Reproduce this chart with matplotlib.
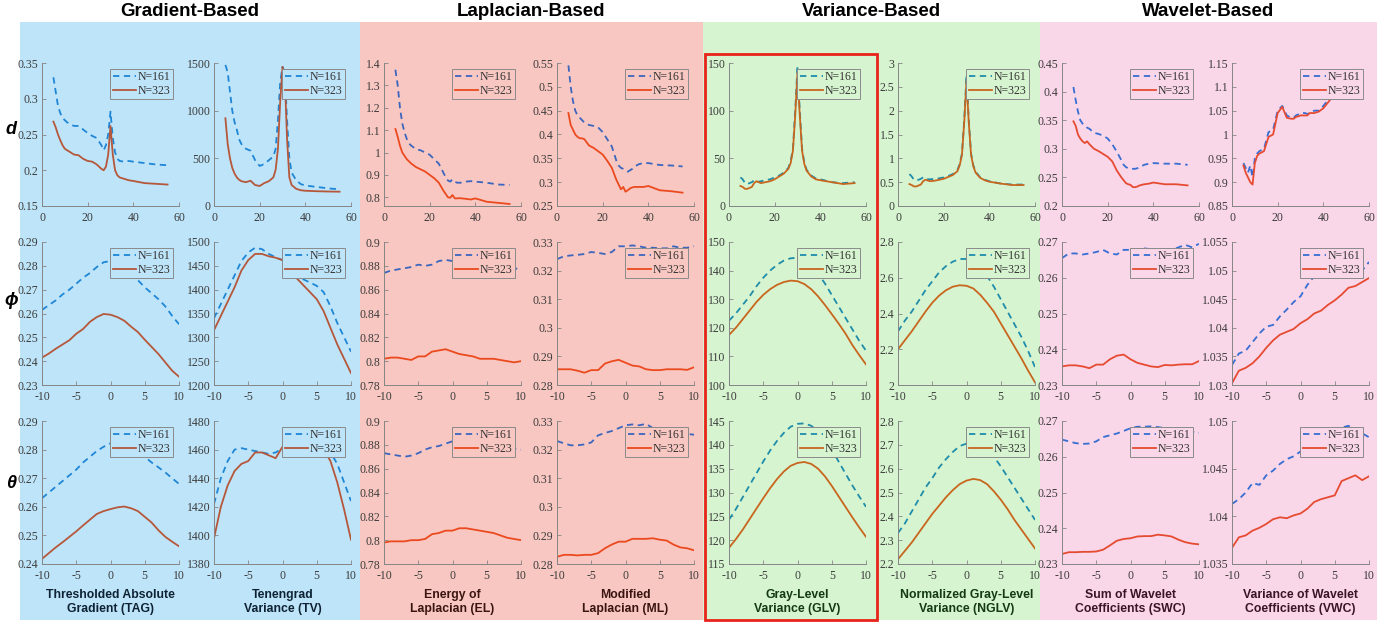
import numpy as np
import matplotlib
matplotlib.use('Agg')
import matplotlib.pyplot as plt
from matplotlib.patches import Rectangle
from matplotlib.ticker import FuncFormatter

plt.rcParams['axes.unicode_minus'] = False

W, H = 1396, 622

# ---------------- data ----------------
# row 1: distance d
D_X = [5, 6, 7, 8, 9, 10, 11, 12, 14, 16, 18, 20, 22, 24, 26, 27, 28, 29, 30, 31, 32, 33, 34, 36, 38, 40, 45, 50, 55]
# rows 2/3: angle phi / theta
A_X = [-10, -9, -8, -7, -6, -5, -4, -3, -2, -1, 0, 1, 2, 3, 4, 5, 6, 7, 8, 9, 10]

TAG_D_161 = [.330, .31, .29, .28, .273, .27, .267, .265, .262, .262, .257, .252, .248, .245, .235, .228, .235, .25, .282, .245, .225, .216, .213, .212, .213, .212, .210, .208, .207]
TAG_D_323 = [.268, .26, .25, .242, .235, .23, .228, .226, .222, .221, .216, .213, .212, .208, .202, .200, .205, .222, .262, .222, .200, .193, .190, .188, .186, .185, .182, .181, .180]
TV_D_161 = [1480, 1400, 1200, 1000, 880, 800, 700, 650, 600, 580, 480, 420, 440, 480, 520, 600, 900, 1300, 1460, 1400, 900, 500, 350, 270, 230, 215, 200, 185, 175]
TV_D_323 = [920, 650, 500, 400, 340, 300, 275, 260, 250, 265, 220, 210, 240, 260, 300, 380, 600, 1100, 1460, 1350, 700, 300, 220, 180, 165, 160, 155, 152, 150]
EL_D_161 = [1.37, 1.3, 1.2, 1.13, 1.09, 1.06, 1.04, 1.03, 1.015, 1.01, 1.0, .99, .97, .95, .91, .89, .875, .87, .88, .87, .865, .865, .865, .87, .872, .87, .865, .857, .855]
EL_D_323 = [1.105, 1.07, 1.03, 1.0, .985, .97, .96, .95, .935, .925, .915, .9, .885, .865, .83, .815, .8, .798, .81, .795, .795, .796, .795, .793, .79, .795, .78, .775, .77]
ML_D_161 = [.545, .5, .47, .45, .44, .435, .43, .425, .42, .418, .415, .405, .39, .375, .345, .335, .33, .328, .325, .322, .325, .328, .333, .338, .34, .34, .336, .335, .333]
ML_D_323 = [.445, .42, .41, .4, .395, .392, .392, .39, .377, .372, .365, .358, .345, .33, .305, .295, .285, .29, .28, .283, .287, .289, .29, .29, .29, .292, .283, .281, .278]
GLV_D_161 = [30, 28, 24, 23, 24, 25, 27, 25, 26, 27, 28, 30, 32, 35, 40, 47, 60, 100, 147, 100, 60, 45, 38, 32, 29, 28, 25, 24, 25]
GLV_D_323 = [21, 20, 18, 18, 19, 20, 24, 26, 24, 25, 26, 28, 31, 34, 39, 45, 58, 95, 140, 95, 58, 44, 37, 31, 28, 27, 25, 23, 24]
NGLV_D_161 = [.67, .62, .55, .54, .55, .57, .6, .56, .56, .57, .58, .6, .63, .67, .75, .88, 1.1, 1.8, 2.75, 1.8, 1.1, .85, .72, .6, .55, .52, .47, .45, .45]
NGLV_D_323 = [.46, .44, .41, .41, .43, .45, .52, .55, .52, .53, .55, .57, .61, .65, .73, .85, 1.07, 1.75, 2.62, 1.75, 1.07, .83, .7, .59, .54, .51, .47, .44, .44]
SWC_D_161 = [.408, .385, .365, .35, .344, .34, .337, .335, .328, .326, .323, .318, .308, .295, .28, .272, .268, .266, .265, .265, .265, .266, .268, .272, .274, .275, .274, .274, .272]
SWC_D_323 = [.348, .34, .325, .318, .313, .31, .313, .308, .3, .296, .291, .286, .278, .262, .25, .245, .24, .238, .237, .233, .233, .234, .236, .238, .239, .241, .238, .238, .236]
VWC_D_161 = [.94, .93, .92, .935, .91, .95, .96, .965, .97, 1.005, 1.01, 1.05, 1.06, 1.04, 1.035, 1.035, 1.04, 1.042, 1.045, 1.045, 1.045, 1.043, 1.045, 1.05, 1.05, 1.06, 1.09, 1.12, 1.14]
VWC_D_323 = [.935, .92, .91, .9, .895, .94, .955, .96, .965, .995, 1.0, 1.045, 1.058, 1.035, 1.033, 1.033, 1.037, 1.038, 1.04, 1.04, 1.04, 1.04, 1.045, 1.045, 1.048, 1.055, 1.085, 1.115, 1.135]

TAG_P_161 = [.2615, .2635, .2655, .268, .270, .2725, .275, .277, .2795, .2815, .282, .281, .279, .2765, .274, .271, .2685, .266, .263, .259, .2555]
TAG_P_323 = [.2415, .2432, .2452, .247, .2488, .2515, .2535, .2565, .2585, .2598, .2595, .2585, .257, .2545, .2522, .249, .246, .243, .2395, .236, .2335]
TV_P_161 = [1340, 1370, 1400, 1430, 1460, 1478, 1488, 1485, 1475, 1468, 1462, 1450, 1435, 1422, 1415, 1408, 1395, 1365, 1330, 1300, 1270]
TV_P_323 = [1315, 1345, 1375, 1405, 1440, 1462, 1475, 1475, 1470, 1467, 1462, 1445, 1425, 1410, 1395, 1380, 1355, 1320, 1285, 1255, 1225]
EL_P_161 = [.874, .876, .877, .878, .879, .881, .880, .881, .884, .885, .884, .884, .883, .882, .882, .881, .880, .879, .879, .878, .877]
EL_P_323 = [.802, .803, .803, .802, .801, .804, .804, .808, .809, .810, .808, .806, .805, .804, .802, .802, .802, .801, .800, .799, .800]
ML_P_161 = [.324, .325, .3253, .3255, .3258, .3265, .3262, .3258, .3265, .3285, .3285, .3288, .3285, .328, .328, .3278, .3278, .3285, .328, .328, .3285]
ML_P_323 = [.2855, .2855, .2855, .285, .2843, .2852, .2852, .2875, .2883, .2888, .2878, .2868, .2865, .2855, .2852, .2852, .2855, .2855, .2855, .2853, .2862]
GLV_P_161 = [122.5, 125, 128, 131, 134.5, 137.5, 140, 142, 143.5, 144.3, 144.5, 143.5, 141.5, 139, 135.5, 131.5, 127.5, 123.5, 119.5, 115.5, 112]
GLV_P_323 = [117.5, 120, 123, 126, 129, 131.5, 133.5, 135, 136, 136.5, 136.3, 135.3, 133.5, 131, 128, 124.8, 121.5, 118, 114, 110.5, 107.2]
NGLV_P_161 = [2.3, 2.36, 2.41, 2.47, 2.53, 2.58, 2.63, 2.665, 2.69, 2.705, 2.705, 2.69, 2.655, 2.61, 2.55, 2.48, 2.41, 2.34, 2.27, 2.19, 2.1]
NGLV_P_323 = [2.2, 2.25, 2.3, 2.355, 2.41, 2.46, 2.5, 2.53, 2.55, 2.558, 2.555, 2.54, 2.505, 2.46, 2.41, 2.345, 2.28, 2.215, 2.15, 2.08, 2.015]
SWC_P_161 = [.2655, .2668, .2668, .2665, .2668, .2672, .2678, .2668, .2665, .2678, .2678, .2678, .2682, .268, .2678, .2675, .2678, .2685, .2692, .2685, .2695]
SWC_P_323 = [.2352, .2355, .2355, .2352, .2347, .2357, .2357, .2372, .2382, .2385, .2372, .2362, .2357, .2352, .2350, .2356, .2355, .2357, .2358, .2358, .2367]
VWC_P_161 = [1.0335, 1.0355, 1.036, 1.0375, 1.039, 1.0402, 1.0405, 1.042, 1.0432, 1.0445, 1.0455, 1.0475, 1.049, 1.05, 1.0505, 1.051, 1.051, 1.0505, 1.050, 1.050, 1.0515]
VWC_P_323 = [1.0303, 1.0325, 1.033, 1.0338, 1.035, 1.0365, 1.0378, 1.0388, 1.0393, 1.0398, 1.0408, 1.0415, 1.0425, 1.043, 1.044, 1.0448, 1.0458, 1.047, 1.0473, 1.048, 1.0487]

TAG_T_161 = [.263, .265, .267, .269, .271, .273, .2755, .2775, .2795, .281, .2822, .2823, .2815, .28, .279, .2775, .2755, .2738, .272, .270, .268]
TAG_T_323 = [.2418, .2438, .2458, .2476, .2495, .2514, .2535, .2555, .2575, .2585, .2592, .2598, .2601, .2595, .2585, .2565, .2545, .2518, .2495, .2478, .2462]
TV_T_161 = [1422, 1440, 1452, 1460, 1461, 1460, 1459, 1458, 1457, 1458, 1461, 1462, 1462, 1461, 1460, 1460, 1459, 1458, 1450, 1437, 1424]
TV_T_323 = [1398, 1420, 1435, 1445, 1450, 1452, 1458, 1458, 1456, 1454, 1462, 1464, 1463, 1462, 1462, 1461, 1460, 1452, 1437, 1418, 1397]
EL_T_161 = [.873, .872, .871, .870, .871, .873, .876, .878, .879, .881, .883, .884, .884, .882, .881, .880, .879, .878, .878, .877, .876]
EL_T_323 = [.798, .799, .799, .799, .800, .800, .801, .805, .806, .808, .808, .810, .810, .809, .808, .807, .806, .804, .802, .801, .800]
ML_T_161 = [.323, .3222, .3215, .3215, .3218, .3225, .325, .3258, .3265, .3275, .3285, .3288, .3285, .329, .3275, .327, .326, .3258, .3255, .3255, .3252]
ML_T_323 = [.2825, .2832, .2832, .283, .2832, .2832, .2838, .2855, .2868, .2878, .2878, .2888, .2888, .2888, .289, .2885, .2882, .2868, .2858, .2855, .2848]
GLV_T_161 = [124.3, 126.5, 129, 131.5, 134, 136.5, 138.8, 140.8, 142.5, 143.8, 144.4, 144.5, 144, 142.8, 141, 139, 136.5, 134, 131.5, 129.2, 127]
GLV_T_323 = [118.4, 120.2, 122.2, 124.4, 126.6, 128.8, 130.9, 132.8, 134.4, 135.6, 136.2, 136.4, 136, 135, 133.4, 131.4, 129.2, 127, 124.8, 122.7, 120.7]
NGLV_T_161 = [2.33, 2.37, 2.42, 2.47, 2.52, 2.56, 2.605, 2.64, 2.67, 2.695, 2.705, 2.708, 2.70, 2.68, 2.65, 2.61, 2.565, 2.52, 2.475, 2.43, 2.385]
NGLV_T_323 = [2.22, 2.255, 2.29, 2.33, 2.37, 2.41, 2.445, 2.48, 2.51, 2.535, 2.55, 2.557, 2.552, 2.535, 2.505, 2.47, 2.43, 2.385, 2.345, 2.305, 2.265]
SWC_T_161 = [.2648, .2643, .2638, .2636, .2637, .2643, .2655, .266, .2665, .2672, .268, .2684, .2684, .2685, .2683, .268, .2678, .2675, .2672, .267, .2667]
SWC_T_323 = [.2328, .2333, .2333, .2334, .2334, .2335, .234, .2352, .2365, .237, .2372, .2377, .2378, .2378, .2382, .238, .2377, .2368, .2361, .2357, .2355]
VWC_T_161 = [1.0413, 1.0418, 1.0425, 1.0435, 1.0433, 1.0443, 1.0448, 1.0455, 1.046, 1.0463, 1.0468, 1.0472, 1.0478, 1.048, 1.0485, 1.049, 1.0493, 1.0495, 1.049, 1.0487, 1.0483]
VWC_T_323 = [1.0367, 1.0378, 1.038, 1.0385, 1.0388, 1.0392, 1.0397, 1.0399, 1.0398, 1.0401, 1.0403, 1.0408, 1.0415, 1.0418, 1.042, 1.0422, 1.0437, 1.044, 1.0443, 1.0438, 1.0442]

METHODS = ['TAG', 'TV', 'EL', 'ML', 'GLV', 'NGLV', 'SWC', 'VWC']
METHOD_NAMES = ['Thresholded Absolute\nGradient (TAG)', 'Tenengrad\nVariance (TV)',
                'Energy of\nLaplacian (EL)', 'Modified\nLaplacian (ML)',
                'Gray-Level\nVariance (GLV)', 'Normalized Gray-Level\nVariance (NGLV)',
                'Sum of Wavelet\nCoefficients (SWC)', 'Variance of Wavelet\nCoefficients (VWC)']
GROUPS = ['Gradient-Based', 'Laplacian-Based', 'Variance-Based', 'Wavelet-Based']
ROW_LABELS = ['d', 'ϕ', 'θ']
LEGEND = ['N=161', 'N=323']

g = globals()
SERIES = [[(g[f'{m}_{r}_161'], g[f'{m}_{r}_323']) for m in METHODS] for r in ['D', 'P', 'T']]

# y limits and tick step, per row / column
YLIMS = [
    [(.15, .35, .05), (0, 1500, 500), (.761, 1.4, .1), (.25, .55, .05), (0, 150, 50), (0, 3, .5), (.2, .45, .05), (.85, 1.15, .05)],
    [(.23, .29, .01), (1200, 1500, 50), (.78, .9, .02), (.28, .33, .01), (100, 150, 10), (2, 2.8, .2), (.23, .27, .01), (1.03, 1.055, .005)],
    [(.24, .29, .01), (1380, 1480, 20), (.78, .9, .02), (.28, .33, .01), (115, 145, 5), (2.2, 2.8, .1), (.23, .27, .01), (1.035, 1.05, .005)],
]

# ---------------- styling ----------------
BG = ['#BEE4F9', '#F8C7C1', '#D6F4CF', '#F9D6E8']
C161 = ['#1F86D6', '#3C66BE', '#1E8CAA', '#376ED2']
C323 = ['#B5573A', '#EB4A1E', '#C8661E', '#E64B32']
TXT = ['#0E2233', '#3A1410', '#143A12', '#3A1428']
PANEL_X = [20, 360, 703, 1040, 1377]
COL_L = [42, 214, 384, 557, 729, 898, 1062, 1232]
ROW_T = [63, 242, 421]
AX_W, AX_H = 137, 143

SERIF = ['Liberation Serif', 'DejaVu Serif']
SANS = ['Liberation Sans', 'DejaVu Sans']

fig = plt.figure(figsize=(W / 100, H / 100), dpi=100)

# background panels
for k in range(4):
    x0, x1 = PANEL_X[k], PANEL_X[k + 1]
    fig.patches.append(Rectangle((x0 / W, 2 / H), (x1 - x0) / W, (H - 24) / H,
                                 transform=fig.transFigure, facecolor=BG[k], edgecolor='none', zorder=-5))
    fig.text((x0 + x1) / 2 / W, 1 - 12 / H, GROUPS[k], ha='center', va='center',
             fontsize=13.5, fontweight='bold', family=SANS)

# highlight around GLV
fig.patches.append(Rectangle((705 / W, 1 - 620 / H), 172 / W, 566 / H, transform=fig.transFigure,
                             facecolor='none', edgecolor='#E8231B', linewidth=2, zorder=5))

fmt = FuncFormatter(lambda v, p: f'{v + 0.0:g}')

for r in range(3):
    for c in range(8):
        k = c // 2
        ax = fig.add_axes([COL_L[c] / W, 1 - (ROW_T[r] + AX_H) / H, AX_W / W, AX_H / H])
        ax.patch.set_alpha(0)
        y161, y323 = SERIES[r][c]
        xs = D_X if r == 0 else A_X
        ax.plot(xs, y161, color=C161[k], lw=1.3, ls=(0, (3.5, 2.5)), label=LEGEND[0])
        ax.plot(xs, y323, color=C323[k], lw=1.3, label=LEGEND[1])

        lo, hi, st = YLIMS[r][c]
        ax.set_ylim(lo, hi)
        ticks = np.round(np.arange(np.ceil(lo / st - 1e-6) * st, hi + st / 2, st), 6) + 0.0
        ax.set_yticks(ticks)
        if r == 0:
            ax.set_xlim(0, 60)
            ax.set_xticks([0, 20, 40, 60])
        else:
            ax.set_xlim(-10, 10)
            ax.set_xticks([-10, -5, 0, 5, 10])
        ax.xaxis.set_major_formatter(fmt)
        ax.yaxis.set_major_formatter(fmt)

        for s in ['top', 'right']:
            ax.spines[s].set_visible(False)
        for s in ['left', 'bottom']:
            ax.spines[s].set_color('#858585')
            ax.spines[s].set_linewidth(0.7)
        ax.tick_params(direction='in', length=3, width=0.6, color='#858585',
                       labelsize=8.5, labelcolor='#3C3C3C')
        ax.tick_params(axis='y', pad=2.5)
        ax.tick_params(axis='x', pad=4)
        for lab in ax.get_xticklabels() + ax.get_yticklabels():
            lab.set_family(SERIF)

        leg = ax.legend(loc='upper right', frameon=True, fancybox=False,
                        facecolor=BG[k], edgecolor='#8A8A8A', framealpha=1,
                        borderpad=0.2, labelspacing=0.12, handlelength=2.0,
                        handletextpad=0.15, borderaxespad=0.5, prop={'family': SERIF, 'size': 8.5})
        leg.get_frame().set_linewidth(0.7)
        for t in leg.get_texts():
            t.set_color('#333333')

        if r == 2:
            fig.text((COL_L[c] + AX_W / 2) / W, 1 - 602 / H, METHOD_NAMES[c], ha='center', va='center',
                     fontsize=8.8, fontweight='bold', family=SANS, color=TXT[k], linespacing=1.2)

for r, yy in enumerate([130, 300, 484]):
    fig.text(11 / W, 1 - yy / H, ROW_LABELS[r], ha='center', va='center', fontsize=13,
             fontweight='bold', style='italic', family=SANS)

fig.savefig('out.png', dpi=100)
